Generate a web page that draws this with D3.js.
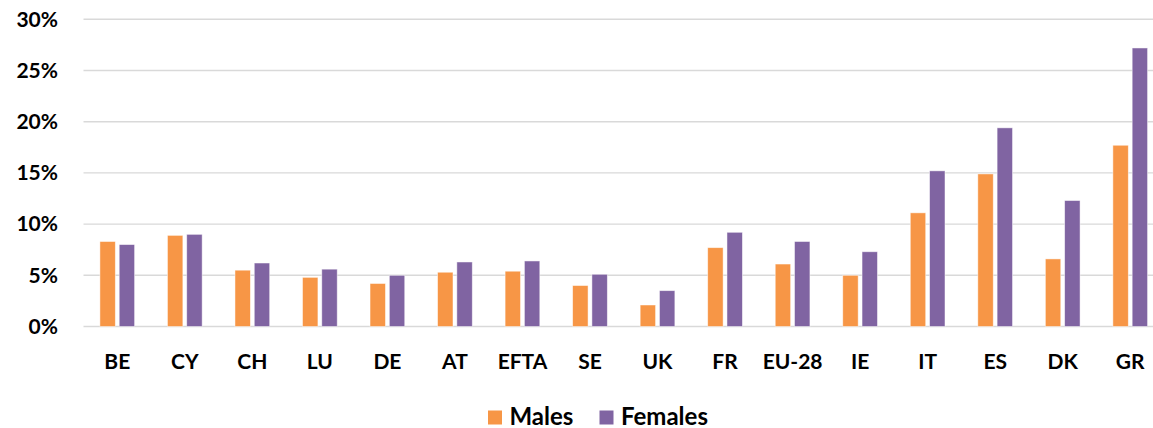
<!DOCTYPE html>
<html>
<head>
<meta charset="utf-8">
<script src="https://cdn.jsdelivr.net/npm/d3@7"></script>
<style>
  body { margin: 0; background: #fff; }
  svg { display: block; font-family: Lato, 'Open Sans', sans-serif; font-weight: 700; }
  .grid line { stroke: #d9d9d9; stroke-width: 1.4px; }
</style>
</head>
<body>
<svg id="chart"></svg>
<script>
const width = 1153;
const height = 428;

const categories = ['BE', 'CY', 'CH', 'LU', 'DE', 'AT', 'EFTA', 'SE', 'UK', 'FR', 'EU-28', 'IE', 'IT', 'ES', 'DK', 'GR'];
const males = [8.3, 8.9, 5.5, 4.8, 4.2, 5.3, 5.4, 4.0, 2.1, 7.7, 6.1, 5.0, 11.1, 14.9, 6.6, 17.7];
const females = [8.0, 9.0, 6.2, 5.6, 5.0, 6.3, 6.4, 5.1, 3.5, 9.2, 8.3, 7.3, 15.2, 19.4, 12.3, 27.2];
const seriesNames = ['Males', 'Females'];
const colors = ['#F79646', '#8064A2'];
const yTicks = [0, 5, 10, 15, 20, 25, 30];

const plot = { left: 83.5, right: 1164, top: 19.3, bottom: 326.5 };

const svg = d3.select('#chart')
  .attr('width', width)
  .attr('height', height);

const x0 = d3.scaleBand()
  .domain(categories)
  .range([plot.left, plot.right])
  .paddingInner(0.486)
  .paddingOuter(0.243);

const x1 = d3.scaleBand()
  .domain(seriesNames)
  .range([0, x0.bandwidth()])
  .paddingInner(0.2);

const y = d3.scaleLinear()
  .domain([0, 30])
  .range([plot.bottom, plot.top]);

// gridlines
svg.append('g')
  .attr('class', 'grid')
  .selectAll('line')
  .data(yTicks)
  .enter()
  .append('line')
  .attr('x1', plot.left)
  .attr('x2', plot.right)
  .attr('y1', (d) => y(d))
  .attr('y2', (d) => y(d));

// y axis labels
const yAxis = d3.axisLeft(y)
  .tickValues(yTicks)
  .tickSize(0)
  .tickPadding(0)
  .tickFormat((d) => `${d}%`);

svg.append('g')
  .attr('class', 'yAxis')
  .attr('transform', 'translate(58, 0)')
  .call(yAxis)
  .call((g) => g.select('.domain').remove())
  .selectAll('text')
  .attr('font-size', '21px')
  .attr('font-family', 'Lato, sans-serif')
  .attr('font-weight', '700')
  .attr('fill', '#000');

// x axis labels
const xAxis = d3.axisBottom(x0).tickSize(0).tickPadding(0);

svg.append('g')
  .attr('class', 'xAxis')
  .attr('transform', 'translate(0, 354)')
  .call(xAxis)
  .call((g) => g.select('.domain').remove())
  .selectAll('text')
  .attr('dy', '0.71em')
  .attr('font-size', '21px')
  .attr('font-family', 'Lato, sans-serif')
  .attr('font-weight', '700')
  .attr('fill', '#000');

// bars
const rows = categories.map((c, i) => ({ cat: c, values: [males[i], females[i]] }));

svg.append('g')
  .attr('class', 'bars')
  .selectAll('.group')
  .data(rows)
  .enter()
  .append('g')
  .attr('class', 'group')
  .attr('transform', (d) => `translate(${x0(d.cat)}, 0)`)
  .selectAll('rect')
  .data((d) => d.values.map((v, j) => ({ name: seriesNames[j], value: v, color: colors[j] })))
  .enter()
  .append('rect')
  .attr('x', (d) => x1(d.name))
  .attr('width', x1.bandwidth())
  .attr('y', (d) => y(d.value))
  .attr('height', (d) => y(0) - y(d.value))
  .attr('fill', (d) => d.color)
  .attr('stroke', '#fff')
  .attr('stroke-opacity', 0.6)
  .attr('stroke-width', 0.8);

// legend
const legend = svg.append('g').attr('class', 'legend');
const legendItems = [
  { name: seriesNames[0], color: colors[0], x: 488 },
  { name: seriesNames[1], color: colors[1], x: 599.5 },
];

const item = legend.selectAll('.item')
  .data(legendItems)
  .enter()
  .append('g')
  .attr('class', 'item')
  .attr('transform', (d) => `translate(${d.x}, 410.5)`);

item.append('rect')
  .attr('width', 14)
  .attr('height', 14)
  .attr('fill', (d) => d.color);

item.append('text')
  .attr('x', 21.5)
  .attr('y', 14)
  .attr('font-size', '24px')
  .attr('fill', '#000')
  .text((d) => d.name);
</script>
</body>
</html>
